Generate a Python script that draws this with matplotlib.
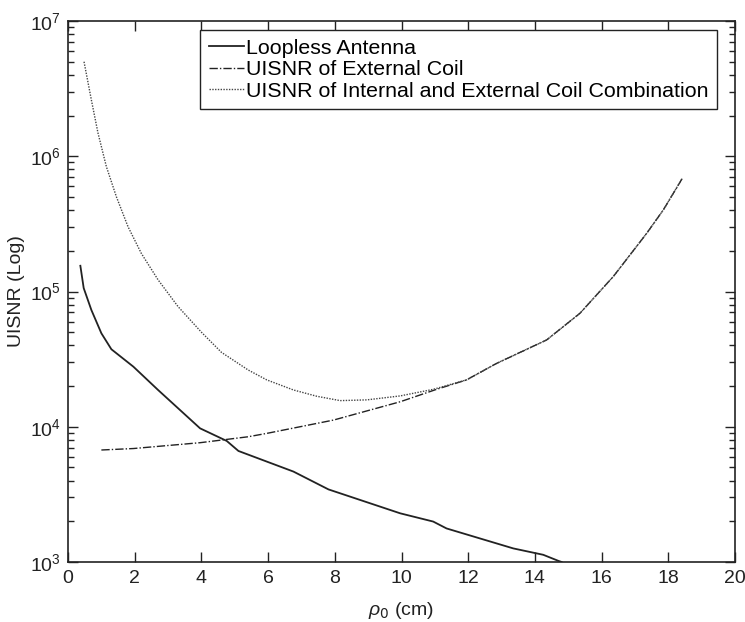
import numpy as np
import matplotlib.pyplot as plt
from matplotlib.ticker import LogLocator, NullFormatter

plt.rcParams['font.family'] = ['Liberation Sans', 'DejaVu Sans']
plt.rcParams['mathtext.fontset'] = 'custom'
plt.rcParams['mathtext.it'] = 'Liberation Sans:italic'

# Loopless antenna (solid)
rho_loop = [0.37, 0.47, 0.70, 1.0, 1.30, 1.96, 2.70, 3.96, 4.76, 5.11, 6.76,
            7.81, 9.96, 10.95, 11.35, 13.35, 14.25, 14.70, 14.8]
snr_loop = [1.55e5, 1.06e5, 7.3e4, 4.91e4, 3.74e4, 2.78e4, 1.87e4, 9.73e3,
            7.85e3, 6.62e3, 4.66e3, 3.44e3, 2.29e3, 1.99e3, 1.77e3, 1.26e3,
            1.13e3, 1.02e3, 1.0e3]

# UISNR of external coil (dash-dot)
rho_ext = [1.0, 1.96, 3.96, 5.40, 5.96, 7.96, 9.96, 11.05, 11.95, 12.85, 14.35,
           15.35, 16.35, 17.35, 17.85, 18.42]
snr_ext = [6.73e3, 6.9e3, 7.62e3, 8.43e3, 8.93e3, 1.12e4, 1.53e4, 1.89e4, 2.22e4,
           2.94e4, 4.38e4, 6.9e4, 1.29e5, 2.69e5, 4.01e5, 6.87e5]

# UISNR of internal + external combination (dotted)
rho_comb = [0.48, 0.70, 0.90, 1.15, 1.45, 1.80, 2.20, 2.70, 3.30, 4.0, 4.60,
            5.40, 5.96, 6.76, 7.46, 8.16, 8.96, 9.96, 10.95, 11.95, 12.85, 14.35,
            15.35, 16.35, 17.35, 17.85, 18.42]
snr_comb = [5.0e6, 2.61e6, 1.48e6, 8.38e5, 5.02e5, 3.01e5, 1.91e5, 1.22e5,
            7.73e4, 5.0e4, 3.55e4, 2.63e4, 2.22e4, 1.87e4, 1.68e4, 1.56e4,
            1.58e4, 1.69e4, 1.89e4, 2.22e4, 2.94e4, 4.38e4, 6.9e4, 1.29e5,
            2.69e5, 4.01e5, 6.87e5]

fig = plt.figure(figsize=(7.45, 6.22), dpi=100)
ax = fig.add_axes([0.0913, 0.0965, 0.8953, 0.8697])

ax.plot(rho_loop, snr_loop, color='#222222', lw=1.3, ls='-', label='Loopless Antenna')
ax.plot(rho_ext, snr_ext, color='#222222', lw=1.0, ls=(0, (6, 1.5, 1, 1.5)),
        label='UISNR of External Coil')
ax.plot(rho_comb, snr_comb, color='#444444', lw=1.0, ls=(0, (1, 1)),
        label='UISNR of Internal and External Coil Combination')

ax.set_yscale('log')
ax.set_xlim(0, 20)
ax.set_ylim(1e3, 1e7)
ax.set_xticks(range(0, 21, 2))
ax.yaxis.set_major_locator(LogLocator(base=10, numticks=10))
ax.yaxis.set_minor_locator(LogLocator(base=10, subs=np.arange(2, 10), numticks=10))
ax.yaxis.set_minor_formatter(NullFormatter())

ax.tick_params(axis='both', which='both', direction='in', top=True, right=True,
               labelsize=14, width=1.0, colors='#222222', labelcolor='#222222')
ax.tick_params(axis='x', pad=6)
ax.tick_params(axis='y', pad=5)
ax.tick_params(which='major', length=7)
ax.tick_params(which='minor', length=4)
for s in ax.spines.values():
    s.set_linewidth(1.2)
    s.set_color('#222222')

ax.set_xlabel(r'$\rho_0$ (cm)', fontsize=14, color='#222222', labelpad=9)
ax.set_ylabel('UISNR (Log)', fontsize=14, color='#222222')

leg = ax.legend(loc='upper right', bbox_to_anchor=(0.973, 0.983), borderaxespad=0,
                fancybox=False, framealpha=1, edgecolor='#222222', fontsize=15.4,
                handlelength=1.65, handletextpad=0.1, borderpad=0.4,
                labelspacing=0.12)
leg.get_frame().set_linewidth(1.0)

fig.savefig('out.png', dpi=100)
